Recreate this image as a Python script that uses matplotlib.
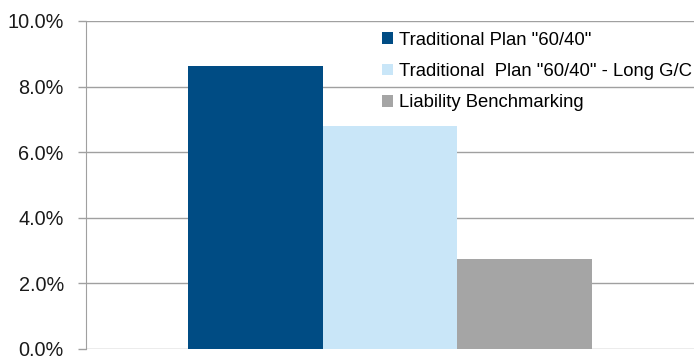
import numpy as np
import matplotlib
matplotlib.use("Agg")
import matplotlib.pyplot as plt
from matplotlib.ticker import PercentFormatter

series = ['Traditional Plan "60/40"',
          'Traditional  Plan "60/40" - Long G/C',
          'Liability Benchmarking']
values = [8.63, 6.80, 2.74]
colors = ['#004C84', '#C9E6F8', '#A5A5A5']
yticks = [0, 2, 4, 6, 8, 10]

plt.rcParams['font.family'] = ['Liberation Sans', 'DejaVu Sans']

fig = plt.figure(figsize=(6.95, 3.56), dpi=100)
ax = fig.add_axes([86 / 695, 7 / 356, 608 / 695, 328 / 356])

width = 0.221
x = (np.arange(len(values)) - 1) * width
for xi, v, c, lab in zip(x, values, colors, series):
    ax.bar(xi, v, width=width, color=c, label=lab, zorder=2)

ax.set_xlim(-0.5, 0.5)
ax.set_ylim(0, 10)
ax.set_yticks(yticks)
ax.yaxis.set_major_formatter(PercentFormatter(decimals=1))
ax.grid(axis='y', color='#A0A0A0', linewidth=1, zorder=0)
ax.set_xticks([])
ax.tick_params(axis='y', length=6, width=1, color='#A0A0A0', pad=10,
               labelsize=14.3, labelcolor='#1a1a1a')
for s in ['top', 'right', 'bottom']:
    ax.spines[s].set_visible(False)
ax.spines['left'].set_color('#A0A0A0')

leg = ax.legend(loc='upper left', bbox_to_anchor=(0.475, 0.99), frameon=False,
                fontsize=13.3, handlelength=0.6, handleheight=0.6,
                handletextpad=0.3, labelspacing=0.78, borderaxespad=0)

plt.savefig('out.png', dpi=100)
